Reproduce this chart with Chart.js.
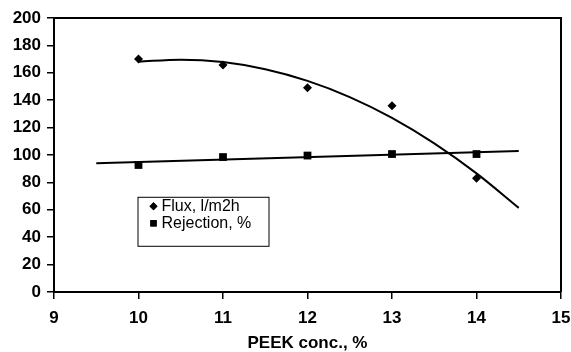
<!DOCTYPE html>
<html>
<head>
<meta charset="utf-8">
<script src="https://cdn.jsdelivr.net/npm/chart.js@4"></script>
<style>
  html, body { margin: 0; padding: 0; background: #fff; }
  #wrap { width: 571px; height: 352px; }
</style>
</head>
<body>
<div id="wrap"><canvas id="fluxChart" width="571" height="352"></canvas></div>
<script>
// measured points
const peekConc = [10, 11, 12, 13, 14];
const fluxValues = [170, 165.7, 149, 136, 83];
const rejectionValues = [92.7, 98.5, 99.6, 100.7, 100.7];

// trend lines
const fluxTrendX = [10, 10.5, 11, 11.5, 12, 12.5, 13, 13.5, 14, 14.5];
const fluxTrendY = [168.1, 169.6, 167.8, 162.6, 154.1, 142.3, 127.1, 108.5, 86.6, 61.4];
const rejTrendX = [9.5, 14.5];
const rejTrendY = [93.9, 103];

const xTicks = [9, 10, 11, 12, 13, 14, 15];
const yTicks = [0, 20, 40, 60, 80, 100, 120, 140, 160, 180, 200];
const legendLabels = ['Flux, l/m2h', 'Rejection, %'];

const toPoints = (xs, ys) => xs.map((x, i) => ({ x: x, y: ys[i] }));

Chart.defaults.font.family = "'Liberation Sans', Arial, sans-serif";
Chart.defaults.color = '#000';

// box around the plot + the small legend box
const framePlugin = {
    id: 'frame',
    afterDraw(chart) {
        const { ctx, chartArea: a, scales } = chart;
        ctx.save();
        ctx.strokeStyle = '#000';
        ctx.lineWidth = 2;
        ctx.beginPath();
        ctx.moveTo(a.left, a.top);
        ctx.lineTo(a.right, a.top);
        ctx.lineTo(a.right, a.bottom);
        ctx.stroke();

        const lx = scales.x.getPixelForValue(10) - 1;
        const ly = scales.y.getPixelForValue(69.5);
        const lw = 131, lh = 49;
        ctx.lineWidth = 1;
        ctx.fillStyle = '#fff';
        ctx.fillRect(lx, ly, lw, lh);
        ctx.strokeRect(lx + 0.5, ly + 0.5, lw, lh);

        ctx.fillStyle = '#000';
        ctx.font = "16px 'Liberation Sans', Arial, sans-serif";
        ctx.textBaseline = 'middle';
        ctx.textAlign = 'left';
        const styles = ['rectRot', 'rect'];
        const radii = [4, 4.5];
        legendLabels.forEach((txt, i) => {
            const cy = ly + 9.5 + i * 17;
            Chart.helpers.drawPoint(ctx, { pointStyle: styles[i], radius: radii[i], borderWidth: 0 }, lx + 16, cy);
            ctx.fill();
            ctx.fillText(txt, lx + 24, cy);
        });
        ctx.restore();
    }
};

new Chart(document.getElementById('fluxChart'), {
    type: 'scatter',
    data: {
        datasets: [
            { label: 'Flux trend', data: toPoints(fluxTrendX, fluxTrendY), showLine: true, pointRadius: 0, borderColor: '#000', borderWidth: 2, cubicInterpolationMode: 'monotone' },
            { label: 'Rejection trend', data: toPoints(rejTrendX, rejTrendY), showLine: true, pointRadius: 0, borderColor: '#000', borderWidth: 2 },
            { label: legendLabels[0], data: toPoints(peekConc, fluxValues), pointStyle: 'rectRot', pointRadius: 4.5, backgroundColor: '#000', borderColor: '#000', borderWidth: 0 },
            { label: legendLabels[1], data: toPoints(peekConc, rejectionValues), pointStyle: 'rect', pointRadius: 5.5, backgroundColor: '#000', borderColor: '#000', borderWidth: 0 }
        ]
    },
    options: {
        responsive: false,
        animation: false,
        layout: { padding: { top: 18, right: 0, left: 0, bottom: 0 } },
        plugins: { legend: { display: false }, tooltip: { enabled: false } },
        scales: {
            x: {
                type: 'linear',
                min: 9,
                max: 15,
                afterBuildTicks: s => { s.ticks = xTicks.map(v => ({ value: v })); },
                afterFit: s => { s.height = 60; s.paddingRight = 10; s.paddingLeft = 0; },
                border: { display: true, color: '#000', width: 2 },
                grid: { drawOnChartArea: false, drawTicks: true, tickLength: 7, color: '#000', lineWidth: 1.5 },
                ticks: { padding: 9, font: { size: 17, weight: 'bold' }, color: '#000' },
                title: { display: true, text: 'PEEK conc., %', font: { size: 17, weight: 'bold', lineHeight: 1 }, padding: 0, color: '#000' }
            },
            y: {
                min: 0,
                max: 200,
                afterBuildTicks: s => { s.ticks = yTicks.map(v => ({ value: v })); },
                afterFit: s => { s.width = 54; },
                border: { display: true, color: '#000', width: 2 },
                grid: { drawOnChartArea: false, drawTicks: true, tickLength: 7, color: '#000', lineWidth: 1.5 },
                ticks: { padding: 6, font: { size: 17, weight: 'bold' }, color: '#000' }
            }
        }
    },
    plugins: [framePlugin]
});
</script>
</body>
</html>
